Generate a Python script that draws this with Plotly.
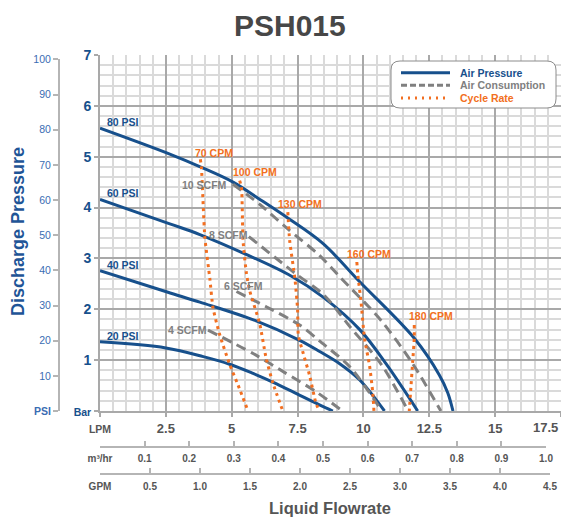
import plotly.graph_objects as go

W, H = 561, 517
MT = 55
PH = H - MT


def px(xp):
    return xp / W


def py(yp):
    return (H - yp) / PH


# ---------------- data (LPM, bar) ----------------
p80_lpm = [0, 2.65, 3.85, 5.05, 6.07, 7.14, 8.47, 9.86, 11.93, 12.88, 13.2, 13.4]
p80_bar = [5.56, 5.05, 4.79, 4.50, 4.16, 3.79, 3.29, 2.54, 1.43, 0.71, 0.36, 0]
p60_lpm = [0, 2.65, 3.79, 5.50, 7.27, 8.47, 9.86, 10.87, 12.06]
p60_bar = [4.16, 3.68, 3.47, 3.09, 2.65, 2.24, 1.60, 0.92, 0]
p40_lpm = [0, 2.55, 3.79, 5.88, 7.58, 8.34, 9.1, 9.86, 10.8]
p40_bar = [2.76, 2.34, 2.14, 1.78, 1.39, 1.17, 0.93, 0.61, 0]
p20_lpm = [0, 2.5, 3.92, 4.92, 5.81, 6.6, 7.5, 8.33, 8.84]
p20_bar = [1.36, 1.24, 1.07, 0.92, 0.74, 0.56, 0.33, 0.12, 0]

s10_lpm = [5.05, 6.07, 7.13, 8.33, 9.1, 10.67, 11.87, 12.94]
s10_bar = [4.46, 4.06, 3.58, 3.06, 2.64, 1.78, 0.93, 0]
s8_lpm = [5.65, 7.4, 8.5, 9.5, 10.7, 11.7]
s8_bar = [3.43, 2.71, 2.28, 1.65, 0.9, 0]
s6_lpm = [5.18, 6.31, 7.58, 8.33, 9.5, 10.7]
s6_bar = [2.35, 2.05, 1.69, 1.38, 0.86, 0]
s4_lpm = [4.10, 5.81, 7.0, 8.2, 9.2]
s4_bar = [1.59, 1.13, 0.76, 0.38, 0]

c70_lpm = [3.81, 3.85, 3.98, 4.17, 4.29, 4.55, 4.92, 5.24, 5.62]
c70_bar = [4.95, 4.79, 3.42, 2.60, 2.03, 1.49, 0.92, 0.51, 0]
c100_lpm = [5.30, 5.37, 5.43, 5.56, 5.68, 6.06, 6.31, 6.57, 6.94]
c100_bar = [4.53, 4.40, 3.35, 2.70, 2.37, 1.72, 1.03, 0.54, 0]
c130_lpm = [7.13, 7.2, 7.4, 7.5, 7.53, 7.7, 7.95, 8.2, 8.33]
c130_bar = [3.91, 3.35, 2.6, 2.0, 1.49, 1.16, 0.71, 0.15, 0]
c160_lpm = [9.75, 9.79, 9.91, 10.04, 10.23, 10.35, 10.4]
c160_bar = [2.93, 2.67, 2.14, 1.43, 0.90, 0.38, 0]
c180_lpm = [11.93, 11.93, 11.87, 11.80, 11.74]
c180_bar = [1.69, 1.43, 0.97, 0.45, 0]

pressure_names = ["80 PSI", "60 PSI", "40 PSI", "20 PSI"]
pressure_label_pos = [(0.2, 5.69), (0.2, 4.28), (0.2, 2.88), (0.2, 1.48)]
scfm_names = ["10 SCFM", "8 SCFM", "6 SCFM", "4 SCFM"]
scfm_label_pos = [(3.97, 4.45), (4.87, 3.47), (5.44, 2.46), (3.32, 1.59)]
cpm_names = ["70 CPM", "100 CPM", "130 CPM", "160 CPM", "180 CPM"]
cpm_label_pos = [(4.34, 5.08), (5.88, 4.69), (7.58, 4.08), (10.2, 3.08), (12.57, 1.87)]

lpm_ticks = [0, 2.5, 5, 7.5, 10, 12.5, 15, 17.5]
lpm_text = ["LPM", "2.5", "5", "7.5", "10", "12.5", "15", "17.5"]
m3_ticks = [0, 0.1, 0.2, 0.3, 0.4, 0.5, 0.6, 0.7, 0.8, 0.9, 1.0]
m3_text = ["m³/hr", "0.1", "0.2", "0.3", "0.4", "0.5", "0.6", "0.7", "0.8", "0.9", "1.0"]
gpm_ticks = [0, 0.5, 1.0, 1.5, 2.0, 2.5, 3.0, 3.5, 4.0, 4.5]
gpm_text = ["GPM", "0.5", "1.0", "1.5", "2.0", "2.5", "3.0", "3.5", "4.0", "4.5"]
bar_ticks = [0, 1, 2, 3, 4, 5, 6, 7]
bar_text = ["Bar", "1", "2", "3", "4", "5", "6", "7"]
psi_ticks = [0, 10, 20, 30, 40, 50, 60, 70, 80, 90, 100]
psi_text = ["PSI", "10", "20", "30", "40", "50", "60", "70", "80", "90", "100"]

legend_names = ["Air Pressure", "Air Consumption", "Cycle Rate"]

# ---------------- styles ----------------
FONT = "Liberation Sans, Arial, sans-serif"
BLUE = "#17508c"
BLUE_LIGHT = "#3a6db3"
GREY = "#808080"
ORANGE = "#f26f21"
TXT = "#555555"
MAJ = "#a9a9a9"
MIN = "#dadada"
DASH = "10px,6px"
DOT = "3px,4px"

fig = go.Figure()

for xs, ys in [(p80_lpm, p80_bar), (p60_lpm, p60_bar), (p40_lpm, p40_bar), (p20_lpm, p20_bar)]:
    fig.add_trace(go.Scatter(x=xs, y=ys, mode="lines", showlegend=False, hoverinfo="skip",
                             line=dict(color=BLUE, width=3, shape="spline", smoothing=1)))
for xs, ys in [(s10_lpm, s10_bar), (s8_lpm, s8_bar), (s6_lpm, s6_bar), (s4_lpm, s4_bar)]:
    fig.add_trace(go.Scatter(x=xs, y=ys, mode="lines", showlegend=False, hoverinfo="skip",
                             line=dict(color=GREY, width=3, dash=DASH, shape="spline", smoothing=0.8)))
for xs, ys in [(c70_lpm, c70_bar), (c100_lpm, c100_bar), (c130_lpm, c130_bar),
               (c160_lpm, c160_bar), (c180_lpm, c180_bar)]:
    fig.add_trace(go.Scatter(x=xs, y=ys, mode="lines", showlegend=False, hoverinfo="skip",
                             line=dict(color=ORANGE, width=3, dash=DOT, shape="spline", smoothing=0.6)))

# dummy traces so that secondary axes are drawn
fig.add_trace(go.Scatter(x=[], y=[], xaxis="x2", yaxis="y2", showlegend=False, hoverinfo="skip"))
fig.add_trace(go.Scatter(x=[], y=[], xaxis="x3", yaxis="y2", showlegend=False, hoverinfo="skip"))

ann = []
for name, (x, y) in zip(pressure_names, pressure_label_pos):
    ann.append(dict(x=x, y=y, xref="x", yref="y", text=name, showarrow=False, xanchor="left",
                    yanchor="middle", font=dict(family=FONT, size=10.5, color=BLUE, weight="bold")))
for name, (x, y) in zip(scfm_names, scfm_label_pos):
    ann.append(dict(x=x, y=y, xref="x", yref="y", text=name, showarrow=False, xanchor="center",
                    yanchor="middle", font=dict(family=FONT, size=10.5, color=GREY, weight="bold")))
for name, (x, y) in zip(cpm_names, cpm_label_pos):
    ann.append(dict(x=x, y=y, xref="x", yref="y", text=name, showarrow=False, xanchor="center",
                    yanchor="middle", font=dict(family=FONT, size=10.5, color=ORANGE, weight="bold")))

# last LPM tick label kept inside the picture (right-aligned at the edge)
ann.append(dict(x=1, y=py(427.5), xref="paper", yref="paper", text=lpm_text[-1], showarrow=False,
                xanchor="right", yanchor="middle", xshift=-1,
                font=dict(family=FONT, size=13, color=TXT, weight="bold")))

ann.append(dict(x=px(290), y=py(25), xref="paper", yref="paper", text="PSH015", showarrow=False,
                xanchor="center", yanchor="middle",
                font=dict(family=FONT, size=30, color="#474747", weight="bold")))
ann.append(dict(x=px(18), y=py(232), xref="paper", yref="paper", text="Discharge Pressure",
                showarrow=False, textangle=-90, xanchor="center", yanchor="middle",
                font=dict(family=FONT, size=18, color="#1f5597", weight="bold")))
ann.append(dict(x=px(330), y=py(508), xref="paper", yref="paper", text="Liquid Flowrate",
                showarrow=False, xanchor="center", yanchor="middle",
                font=dict(family=FONT, size=16.5, color=TXT, weight="bold")))

# manual legend
shapes = []
x0, x1, y0, y1, r = 391, 556, 61, 108, 9
path = (f"M {px(x0 + r)},{py(y0)} L {px(x1 - r)},{py(y0)} "
        f"Q {px(x1)},{py(y0)} {px(x1)},{py(y0 + r)} L {px(x1)},{py(y1 - r)} "
        f"Q {px(x1)},{py(y1)} {px(x1 - r)},{py(y1)} L {px(x0 + r)},{py(y1)} "
        f"Q {px(x0)},{py(y1)} {px(x0)},{py(y1 - r)} L {px(x0)},{py(y0 + r)} "
        f"Q {px(x0)},{py(y0)} {px(x0 + r)},{py(y0)} Z")
shapes.append(dict(type="path", path=path, xref="paper", yref="paper",
                   line=dict(color="#8c8c8c", width=1), fillcolor="white", layer="above"))
leg_rows = [72.7, 85.3, 98]
leg_styles = [(BLUE, "solid"), (GREY, "6px,3px"), (ORANGE, "2px,5px")]
for name, yr, (col, dsh) in zip(legend_names, leg_rows, leg_styles):
    shapes.append(dict(type="line", xref="paper", yref="paper", x0=px(401), x1=px(450),
                       y0=py(yr), y1=py(yr), line=dict(color=col, width=3, dash=dsh), layer="above"))
    ann.append(dict(x=px(458), y=py(yr), xref="paper", yref="paper", text=name, showarrow=False,
                    xanchor="left", yanchor="middle",
                    font=dict(family=FONT, size=10.5, color=col, weight="bold")))

small = lambda t: f'<span style="font-size:10.5px">{t}</span>'

fig.update_layout(
    width=W, height=H,
    margin=dict(l=0, r=0, t=MT, b=0, pad=0),
    paper_bgcolor="white", plot_bgcolor="rgba(0,0,0,0)",
    template="none",
    showlegend=False,
    font=dict(family=FONT),
    annotations=ann,
    shapes=shapes,
    xaxis=dict(
        domain=[px(100), 1], range=[0, 17.5], anchor="y",
        tickvals=lpm_ticks, ticktext=[small(lpm_text[0])] + lpm_text[1:-1] + [""],
        tickfont=dict(family=FONT, size=13, color=TXT, weight="bold"),
        showline=True, linecolor=MAJ, linewidth=2, mirror=False,
        ticks="outside", ticklen=4, tickcolor=MAJ, tickwidth=1.5,
        ticklabelstandoff=0,
        showgrid=True, gridcolor=MAJ, gridwidth=1.5, zeroline=False,
        minor=dict(dtick=0.5, tick0=0, showgrid=True, gridcolor=MIN, gridwidth=1.5, ticks=""),
        automargin=False, fixedrange=True,
    ),
    yaxis=dict(
        domain=[py(411), 1], range=[0, 7], anchor="x",
        tickvals=bar_ticks, ticktext=[small(bar_text[0])] + bar_text[1:],
        tickfont=dict(family=FONT, size=14, color=BLUE, weight="bold"),
        showline=True, linecolor=MAJ, linewidth=2,
        ticks="outside", ticklen=4, tickcolor=MAJ, tickwidth=1.5,
        showgrid=True, gridcolor=MAJ, gridwidth=1.5, zeroline=False,
        minor=dict(dtick=0.2, tick0=0, showgrid=True, gridcolor=MIN, gridwidth=1.5, ticks=""),
        automargin=False, fixedrange=True,
    ),
    yaxis2=dict(
        domain=[py(411), py(59.4)], range=[0, 100], anchor="free", position=px(59), side="left",
        tickvals=psi_ticks, ticktext=["<b>PSI</b>"] + psi_text[1:],
        tickfont=dict(family=FONT, size=10.5, color=BLUE_LIGHT),
        showline=True, linecolor="#b5b5b5", linewidth=2,
        ticks="outside", ticklen=5, tickcolor="#b5b5b5", tickwidth=1.5,
        showgrid=False, zeroline=False, automargin=False, fixedrange=True,
    ),
    xaxis2=dict(
        domain=[px(100), px(546)], range=[0, 1.0], anchor="free", position=py(447),
        tickvals=m3_ticks, ticktext=m3_text,
        tickfont=dict(family=FONT, size=10, color=TXT, weight="bold"),
        showline=True, linecolor="#b5b5b5", linewidth=2,
        ticks="inside", ticklen=5, tickcolor="#b5b5b5", tickwidth=1.5,
        ticklabelstandoff=2,
        showgrid=False, zeroline=False, automargin=False, fixedrange=True,
    ),
    xaxis3=dict(
        domain=[px(100), px(550)], range=[0, 4.5], anchor="free", position=py(474),
        tickvals=gpm_ticks, ticktext=gpm_text,
        tickfont=dict(family=FONT, size=10, color=TXT, weight="bold"),
        showline=True, linecolor="#b5b5b5", linewidth=2,
        ticks="inside", ticklen=5, tickcolor="#b5b5b5", tickwidth=1.5,
        ticklabelstandoff=3,
        showgrid=False, zeroline=False, automargin=False, fixedrange=True,
    ),
)

fig.write_html("out.html")
